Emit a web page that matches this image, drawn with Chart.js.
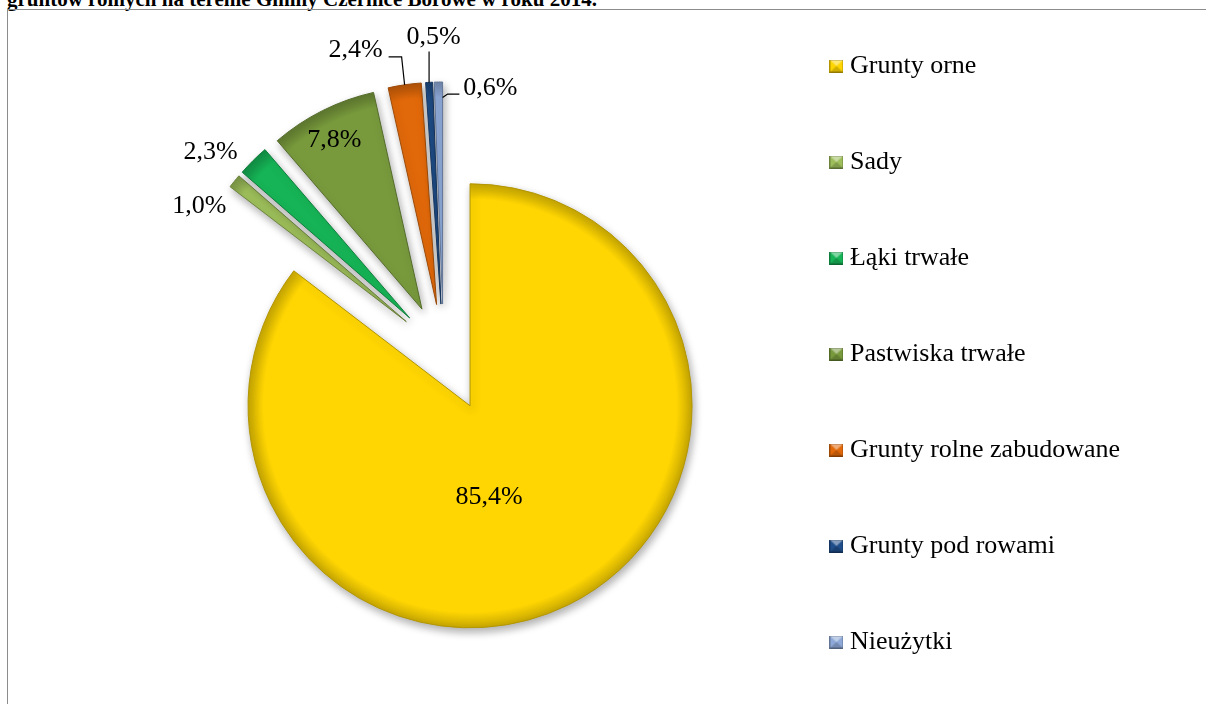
<!DOCTYPE html>
<html lang="pl">
<head>
<meta charset="utf-8">
<title>Struktura gruntów rolnych – Gmina Czernice Borowe 2014</title>
<script src="https://cdn.jsdelivr.net/npm/chart.js@4/dist/chart.umd.min.js"></script>
<style>
  html, body { margin: 0; padding: 0; background: #fff; overflow: hidden; }
  body { width: 1206px; height: 704px; position: relative; font-family: "Liberation Serif", "Times New Roman", serif; }
  #title { position: absolute; left: 7px; top: -11px; font-size: 21px; line-height: 20px; font-weight: bold; white-space: nowrap; color: #000; }
  #frame { position: absolute; left: 7px; top: 9px; width: 1230px; height: 730px; border: 1px solid #8c8c8c; }
  #chart-box { position: absolute; left: 0; top: 0; width: 1206px; height: 704px; }
</style>
</head>
<body>
<div id="title">gruntów rolnych na terenie Gminy Czernice Borowe w roku 2014.</div>
<div id="frame"></div>
<div id="chart-box"><canvas id="pie"></canvas></div>
<script>
// data
const categories = ["Grunty orne", "Sady", "Łąki trwałe", "Pastwiska trwałe", "Grunty rolne zabudowane", "Grunty pod rowami", "Nieużytki"];
const shares = [85.4, 1.0, 2.3, 7.8, 2.4, 0.5, 0.6];

// look
const colors = ["#FFD602", "#9DBE5A", "#16B456", "#789A3C", "#E2690A", "#1F4E8A", "#8EA9D8"];
const PIE_RADIUS = 222;
const explodeBy = [60, 48, 48, 48, 48, 48, 48];

// where each percentage sits: k = fraction of radius along the slice bisector, then a nudge
const labelPlace = [
  { k: 0.5, dx: -30, dy: -8 },
  { k: 1.07, dx: -23, dy: 35 },
  { k: 1.17, dx: -16, dy: 18 },
  { k: 0.85, dx: -3, dy: 0 },
  { k: 1, dx: -49, dy: -35, leader: { start: [33, 7], kneeDx: -3 } },
  { k: 1, dx: 4.5, dy: -45, leader: { start: [0, 14], vertical: true } },
  { k: 1, dx: 52, dy: 6, leader: { start: [-31, 6], kneeDx: 5, edge: "end", reach: 0.93 } },
];

const FONT = "'Liberation Serif', 'Times New Roman', serif";
Chart.defaults.font.family = FONT;

function shade(hex, f) {
  const n = parseInt(hex.slice(1), 16);
  const r = Math.round(((n >> 16) & 255) * f);
  const g = Math.round(((n >> 8) & 255) * f);
  const b = Math.round((n & 255) * f);
  return `rgb(${r}, ${g}, ${b})`;
}

// small bevelled squares like the office legend keys
function swatch(color) {
  const c = document.createElement("canvas");
  c.width = 14;
  c.height = 13;
  const g = c.getContext("2d");
  g.fillStyle = color;
  g.fillRect(0, 0, 14, 13);
  g.fillStyle = "rgba(255,255,255,0.45)";
  g.beginPath();
  g.moveTo(0, 0);
  g.lineTo(14, 0);
  g.lineTo(7, 6.5);
  g.closePath();
  g.fill();
  g.fillStyle = "rgba(0,0,0,0.18)";
  g.beginPath();
  g.moveTo(0, 13);
  g.lineTo(14, 13);
  g.lineTo(7, 6.5);
  g.closePath();
  g.fill();
  g.strokeStyle = "rgba(0,0,0,0.3)";
  g.strokeRect(0.5, 0.5, 13, 12);
  return c;
}
const swatches = colors.map(swatch);

function sliceCenter(arc, i) {
  const mid = (arc.startAngle + arc.endAngle) / 2;
  return { x: arc.x + Math.cos(mid) * explodeBy[i], y: arc.y + Math.sin(mid) * explodeBy[i] };
}

function arcPoint(arc, i, angle, r) {
  const c = sliceCenter(arc, i);
  return { x: c.x + Math.cos(angle) * r, y: c.y + Math.sin(angle) * r };
}

// pull slices out along their bisectors (the built-in offset also trims thin slices)
const explodePlugin = {
  id: "explode",
  beforeDatasetDraw(chart, args) {
    const ctx = chart.ctx;
    args.meta.data.forEach((arc, i) => {
      const mid = (arc.startAngle + arc.endAngle) / 2;
      ctx.save();
      ctx.translate(Math.cos(mid) * explodeBy[i], Math.sin(mid) * explodeBy[i]);
      ctx.shadowColor = "rgba(0,0,0,0.32)";
      ctx.shadowBlur = 8;
      ctx.shadowOffsetX = 2;
      ctx.shadowOffsetY = 4;
      arc.draw(ctx);
      ctx.restore();
    });
    return false;
  },
};

const labelPlugin = {
  id: "sliceLabels",
  afterDatasetsDraw(chart) {
    const ctx = chart.ctx;
    const meta = chart.getDatasetMeta(0);
    ctx.save();
    ctx.font = `26px ${FONT}`;
    ctx.fillStyle = "#000";
    ctx.strokeStyle = "#000";
    ctx.lineWidth = 1.2;
    ctx.textAlign = "center";
    ctx.textBaseline = "middle";
    meta.data.forEach((arc, i) => {
      const p = labelPlace[i];
      const mid = (arc.startAngle + arc.endAngle) / 2;
      const a = arcPoint(arc, i, mid, PIE_RADIUS * p.k);
      const lx = a.x + p.dx;
      const ly = a.y + p.dy;
      ctx.fillText(shares[i].toFixed(1).replace(".", ",") + "%", lx, ly);
      const L = p.leader;
      if (!L) return;
      const t = arcPoint(arc, i, L.edge === "end" ? arc.endAngle : mid, PIE_RADIUS * (L.reach || 1));
      ctx.beginPath();
      if (L.vertical) {
        ctx.moveTo(t.x, ly + L.start[1]);
        ctx.lineTo(t.x, t.y);
      } else {
        const sy = ly + L.start[1];
        ctx.moveTo(lx + L.start[0], sy);
        ctx.lineTo(t.x + L.kneeDx, sy);
        ctx.lineTo(t.x, t.y);
      }
      ctx.stroke();
    });
    ctx.restore();
  },
};

new Chart(document.getElementById("pie"), {
  type: "pie",
  data: {
    labels: categories,
    datasets: [{
      data: shares,
      backgroundColor: (c) => {
        const base = colors[c.dataIndex];
        const area = c.chart.chartArea;
        if (!area) return base;
        const cx = (area.left + area.right) / 2;
        const cy = (area.top + area.bottom) / 2;
        const g = c.chart.ctx.createRadialGradient(cx, cy, 0, cx, cy, PIE_RADIUS);
        g.addColorStop(0, base);
        g.addColorStop(0.93, base);
        g.addColorStop(1, shade(base, 0.78));
        return g;
      },
      borderColor: colors.map((c) => shade(c, 0.7)),
      borderWidth: 1,
      radius: PIE_RADIUS,
    }],
  },
  options: {
    responsive: true,
    maintainAspectRatio: false,
    animation: false,
    events: [],
    layout: { padding: { left: 121, right: 76, top: -19, bottom: -23 } },
    plugins: {
      tooltip: { enabled: false },
      legend: {
        position: "right",
        align: "center",
        labels: {
          color: "#000",
          font: { size: 26, family: FONT },
          padding: 70,
          usePointStyle: true,
          boxWidth: 1,
          generateLabels: (chart) =>
            Chart.overrides.doughnut.plugins.legend.labels.generateLabels(chart)
              .map((item, i) => ({ ...item, pointStyle: swatches[i] })),
        },
      },
    },
  },
  plugins: [explodePlugin, labelPlugin],
});
</script>
</body>
</html>
